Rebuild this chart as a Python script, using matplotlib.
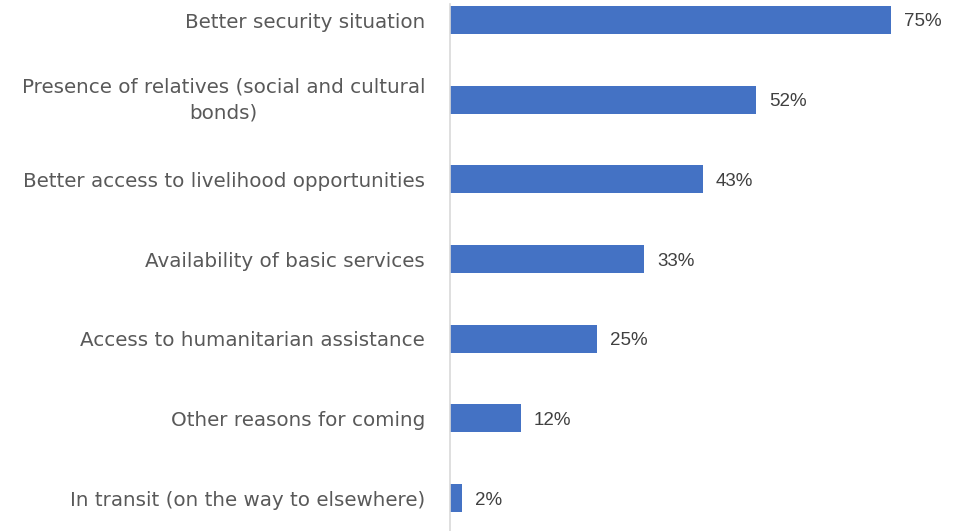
import matplotlib
matplotlib.use("Agg")
import matplotlib.pyplot as plt

categories = [
    "Better security situation",
    "Presence of relatives (social and cultural\nbonds)",
    "Better access to livelihood opportunities",
    "Availability of basic services",
    "Access to humanitarian assistance",
    "Other reasons for coming",
    "In transit (on the way to elsewhere)",
]
values = [75, 52, 43, 33, 25, 12, 2]

bar_color = "#4472C4"
text_color = "#595959"

fig = plt.figure(figsize=(9.6, 5.31), dpi=100)
ax = fig.add_axes([450 / 960, 0, 470.4 / 960, 1 - 4 / 531])

pos = list(range(len(categories)))
ax.barh(pos, values, height=0.35, color=bar_color)
ax.set_xlim(0, 80)
ax.set_ylim((531 - 20) / 79.67, (4 - 20) / 79.67)

for s in ["top", "right", "bottom"]:
    ax.spines[s].set_visible(False)
ax.spines["left"].set_color("#D9D9D9")
ax.spines["left"].set_linewidth(1.2)
ax.set_xticks([])
ax.set_yticks(pos)
ax.set_yticklabels(categories, fontsize=14.3, color=text_color,
                   family="DejaVu Sans", multialignment="center",
                   linespacing=1.45)
ax.tick_params(axis="y", length=0, pad=18)
for lbl in ax.get_yticklabels():
    if "\n" in lbl.get_text():
        lbl.set_va("center")

for p, v in zip(pos, values):
    ax.annotate(f"{v}%", xy=(v, p), xytext=(9.5, 0), textcoords="offset points",
                va="center_baseline", ha="left", fontsize=13.5, color="#404040",
                family="Liberation Sans", annotation_clip=False)

fig.savefig("out.png", dpi=100)
